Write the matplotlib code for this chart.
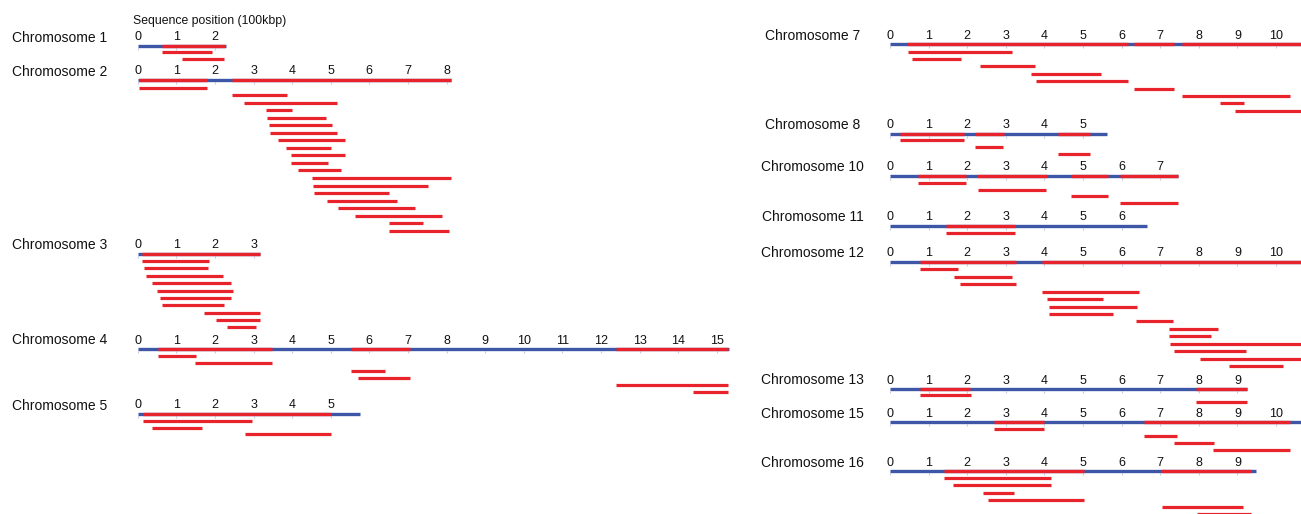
import matplotlib
matplotlib.use("Agg")
import matplotlib.pyplot as plt

plt.rcParams["font.family"] = ["Liberation Sans", "DejaVu Sans"]

RED = "#e8232b"
BLUE = "#3e56a6"
TICK = "#c3cbe0"

# ---- data (units: 100 kbp) ----
# chromosome lengths
chr1_len, chr2_len, chr3_len, chr4_len, chr5_len = 2.30, 8.12, 3.16, 15.32, 5.76
chr7_len, chr8_len, chr10_len, chr11_len = 10.91, 5.61, 7.46, 6.66
chr12_len, chr13_len, chr15_len, chr16_len = 10.78, 9.24, 10.91, 9.48

# red stretches drawn on the chromosome line (the rest is blue)
chr1_red = [(0.64, 2.27)]
chr2_red = [(0.04, 1.80), (2.45, 8.12)]
chr3_red = [(0.12, 3.16)]
chr4_red = [(0.53, 3.48), (5.53, 7.05), (12.38, 15.30)]
chr5_red = [(0.15, 5.02)]
chr7_red = [(0.45, 6.16), (6.32, 7.36), (7.57, 10.91)]
chr8_red = [(0.25, 1.93), (2.20, 2.95), (4.35, 5.17)]
chr10_red = [(0.73, 1.96), (2.25, 4.07), (4.69, 5.64), (5.96, 7.46)]
chr11_red = [(1.44, 3.25)]
chr12_red = [(0.77, 3.27), (3.93, 10.78)]
chr13_red = [(0.78, 2.08), (7.93, 9.24)]
chr15_red = [(2.70, 4.00), (6.57, 10.36)]
chr16_red = [(1.40, 5.02), (7.02, 9.35)]

# fragments, one per row below each chromosome
chr1_frag = [(0.64, 1.92), (1.14, 2.24)]
chr2_frag = [(0.04, 1.80), (2.45, 3.88), (2.75, 5.16), (3.32, 3.99), (3.34, 4.87),
             (3.41, 5.03), (3.43, 5.16), (3.63, 5.37), (3.83, 5.00), (3.96, 5.36),
             (3.97, 4.93), (4.16, 5.26), (4.52, 8.12), (4.54, 7.53), (4.57, 6.52),
             (4.90, 6.71), (5.19, 7.18), (5.62, 7.88), (6.50, 7.40), (6.50, 8.07)]
chr3_frag = [(0.12, 1.85), (0.16, 1.83), (0.21, 2.21), (0.38, 2.42), (0.51, 2.46),
             (0.59, 2.41), (0.64, 2.24), (1.71, 3.16), (2.03, 3.16), (2.31, 3.06)]
chr4_frag = [(0.53, 1.50), (1.48, 3.48), (5.53, 6.40), (5.72, 7.05),
             (12.38, 15.30), (14.39, 15.30)]
chr5_frag = [(0.15, 2.96), (0.36, 1.67), (2.77, 5.02)]
chr7_frag = [(0.47, 3.16), (0.58, 1.84), (2.34, 3.75), (3.64, 5.47), (3.77, 6.16),
             (6.32, 7.36), (7.57, 10.36), (8.55, 9.18), (8.94, 10.91)]
chr8_frag = [(0.26, 1.92), (2.21, 2.94), (4.35, 5.17)]
chr10_frag = [(0.73, 1.96), (2.27, 4.05), (4.69, 5.64), (5.96, 7.46)]
chr11_frag = [(1.44, 3.25)]
chr12_frag = [(0.77, 1.75), (1.65, 3.15), (1.81, 3.27), (3.95, 6.44), (4.08, 5.53),
              (4.11, 6.39), (4.13, 5.78), (6.38, 7.34), (7.22, 8.49), (7.22, 8.32),
              (7.26, 10.78), (7.37, 9.23), (8.04, 10.78), (8.77, 10.17)]
chr13_frag = [(0.79, 2.09), (7.92, 9.24)]
chr15_frag = [(2.70, 4.00), (6.57, 7.43), (7.35, 8.40), (8.38, 10.36)]
chr16_frag = [(1.40, 4.18), (1.62, 4.17), (2.41, 3.22), (2.53, 5.02),
              (7.05, 9.15), (7.96, 9.35)]

left_names = ["Chromosome 1", "Chromosome 2", "Chromosome 3", "Chromosome 4", "Chromosome 5"]
right_names = ["Chromosome 7", "Chromosome 8", "Chromosome 10", "Chromosome 11",
               "Chromosome 12", "Chromosome 13", "Chromosome 15", "Chromosome 16"]

# ---- layout (pixel rows, y grows downward) ----
left_bar_y = [46, 80, 253.7, 349, 414]
left_step = [6.4, 7.54, 7.36, 7.2, 6.77]
right_bar_y = [44.3, 133.7, 175.7, 225.7, 261.7, 389, 422.3, 471.3]
right_step = [7.38, 6.67, 6.9, 7.0, 7.47, 6.35, 6.85, 7.07]

W, H = 1301, 514
UNIT = 38.6
fig = plt.figure(figsize=(W / 100, H / 100), dpi=100)
axL = fig.add_axes([0, 0, 740 / W, 1])
axR = fig.add_axes([740 / W, 0, 561 / W, 1])
axL.set_xlim((0 - 137.7) / UNIT, (740 - 137.7) / UNIT)
axR.set_xlim((740 - 890) / UNIT, (1301 - 890) / UNIT)
for a in (axL, axR):
    a.set_ylim(H, 0)
    a.axis("off")


def draw(ax, name, y, step, length, reds, frags, label_x):
    ax.text(label_x, y - 8.5, name, ha="center", va="center", fontsize=10, color="#111")
    for i in range(int(length) + 1):
        ax.text(i, y - 8.5, str(i), ha="center", va="center", fontsize=9, color="#111")
    ax.vlines(range(int(length) + 1), y + 1.8, y + 3.8, color=TICK, lw=0.8, zorder=1)
    ax.hlines(y, 0, length, color=BLUE, lw=2.4, capstyle="butt", zorder=2)
    for s, e in reds:
        ax.hlines(y, s, e, color=RED, lw=2.4, capstyle="butt", zorder=3)
    for k, (s, e) in enumerate(frags):
        ax.hlines(y + (k + 1) * step, s, e, color=RED, lw=2.3, capstyle="butt", zorder=3)


left_len = [chr1_len, chr2_len, chr3_len, chr4_len, chr5_len]
left_red = [chr1_red, chr2_red, chr3_red, chr4_red, chr5_red]
left_frag = [chr1_frag, chr2_frag, chr3_frag, chr4_frag, chr5_frag]
right_len = [chr7_len, chr8_len, chr10_len, chr11_len, chr12_len, chr13_len, chr15_len, chr16_len]
right_red = [chr7_red, chr8_red, chr10_red, chr11_red, chr12_red, chr13_red, chr15_red, chr16_red]
right_frag = [chr7_frag, chr8_frag, chr10_frag, chr11_frag, chr12_frag, chr13_frag,
              chr15_frag, chr16_frag]

for n, y, st, L, r, f in zip(left_names, left_bar_y, left_step, left_len, left_red, left_frag):
    draw(axL, n, y, st, L, r, f, (60 - 137.7) / UNIT)
for n, y, st, L, r, f in zip(right_names, right_bar_y, right_step, right_len, right_red, right_frag):
    draw(axR, n, y, st, L, r, f, (812.5 - 890) / UNIT)

axL.text((133 - 137.7) / UNIT, 20.7, "Sequence position (100kbp)", ha="left", va="center",
         fontsize=8.8, color="#111")

fig.savefig("out.png", dpi=100)
